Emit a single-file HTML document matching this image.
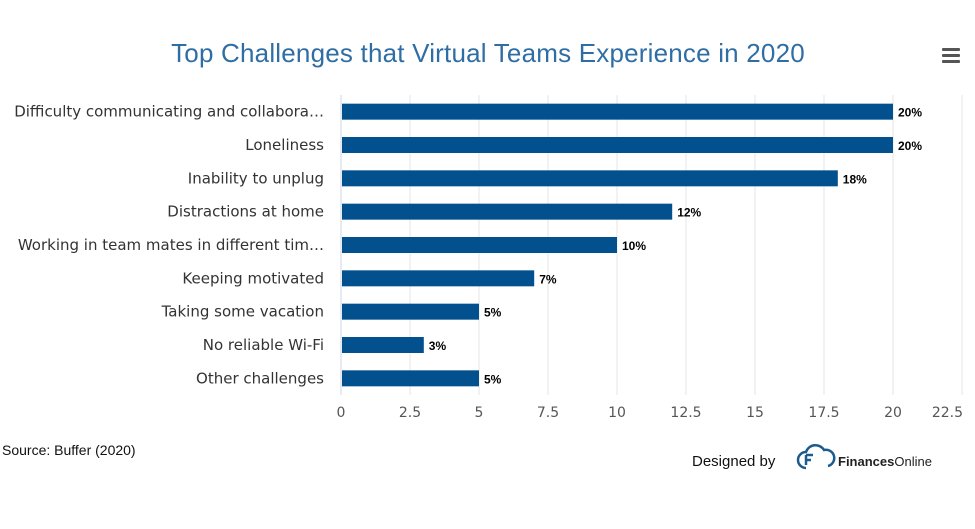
<!DOCTYPE html>
<html><head><meta charset="utf-8"><style>
body{margin:0;background:#fff;width:975px;height:524px;overflow:hidden;font-family:"Liberation Sans",sans-serif}
</style></head><body>
<svg width="975" height="524" xmlns="http://www.w3.org/2000/svg">
<text x="488" y="62" text-anchor="middle" font-size="26" letter-spacing="0.2" fill="#2f6ea5">Top Challenges that Virtual Teams Experience in 2020</text>
<g fill="#555">
<rect x="942" y="48" width="18" height="3" rx="1"/><rect x="942" y="54" width="18" height="3" rx="1"/><rect x="942" y="60" width="18" height="3" rx="1"/>
</g>
<g id="grid"></g><g id="bars"></g><g id="labels"></g>
<text x="2" y="455" font-size="14" fill="#111">Source: Buffer (2020)</text>
<text x="692" y="466" font-size="15" fill="#111">Designed by</text>
<g fill="none" stroke="#1d5b8f" stroke-width="2.5">
<path d="M806 468 a8 8 0 0 1 0-16 a10 10 0 0 1 18-2 a8 8 0 0 1 4 16"/>
<path d="M806 455 h7 M806 455 v10 M806 460 h5"/>
</g>
<text x="838" y="466" font-size="13" font-weight="bold" fill="#222">Finances<tspan font-weight="normal">Online</tspan></text>
</svg>
<script>
const categories=["Difficulty communicating and collabora…","Loneliness","Inability to unplug","Distractions at home","Working in team mates in different tim…","Keeping motivated","Taking some vacation","No reliable Wi-Fi","Other challenges"];
const values=[20,20,18,12,10,7,5,3,5];
const ticks=[0,2.5,5,7.5,10,12.5,15,17.5,20,22.5];
const NS="http://www.w3.org/2000/svg";
const x0=341,x1=893,plotTop=95,plotBottom=395;
const xs=v=>x0+(x1-x0)*v/20;
const band=(plotBottom-plotTop)/categories.length;
function mk(t,a,p){const e=document.createElementNS(NS,t);for(const k in a)e.setAttribute(k,a[k]);p.appendChild(e);return e;}
const g=document.getElementById('grid'),b=document.getElementById('bars'),l=document.getElementById('labels');
ticks.forEach(t=>{
 const ln=mk('line',{x1:xs(t),x2:xs(t),y1:plotTop,y2:plotBottom,stroke:t===0?'#ccd6eb':'#e6e6e6','stroke-width':1},g);
 
 
 const over=xs(t)+18>975;
 const tx=mk('text',{x:over?963:xs(t),y:417,'text-anchor':over?'end':'middle','font-size':14,'font-family':'DejaVu Sans',fill:'#555'},l);
 tx.textContent=t;
 
 
});
categories.forEach((c,i)=>{
 const cy=plotTop+band*(i+0.5);
 const r=mk('rect',{x:x0+1,y:cy-8,width:xs(values[i])-x0-1,height:16,fill:'#03508e'},b);
 
 
 const t=mk('text',{x:324,y:cy+5,'text-anchor':'end','font-size':15,'font-family':'DejaVu Sans',fill:'#333'},l);
 t.textContent=c;
 
 
 const v=mk('text',{x:xs(values[i])+5,y:cy+5,'font-size':12,'font-weight':'bold',fill:'#000'},l);
 v.textContent=values[i]+'%';
 
 
});
</script>
</body></html>
